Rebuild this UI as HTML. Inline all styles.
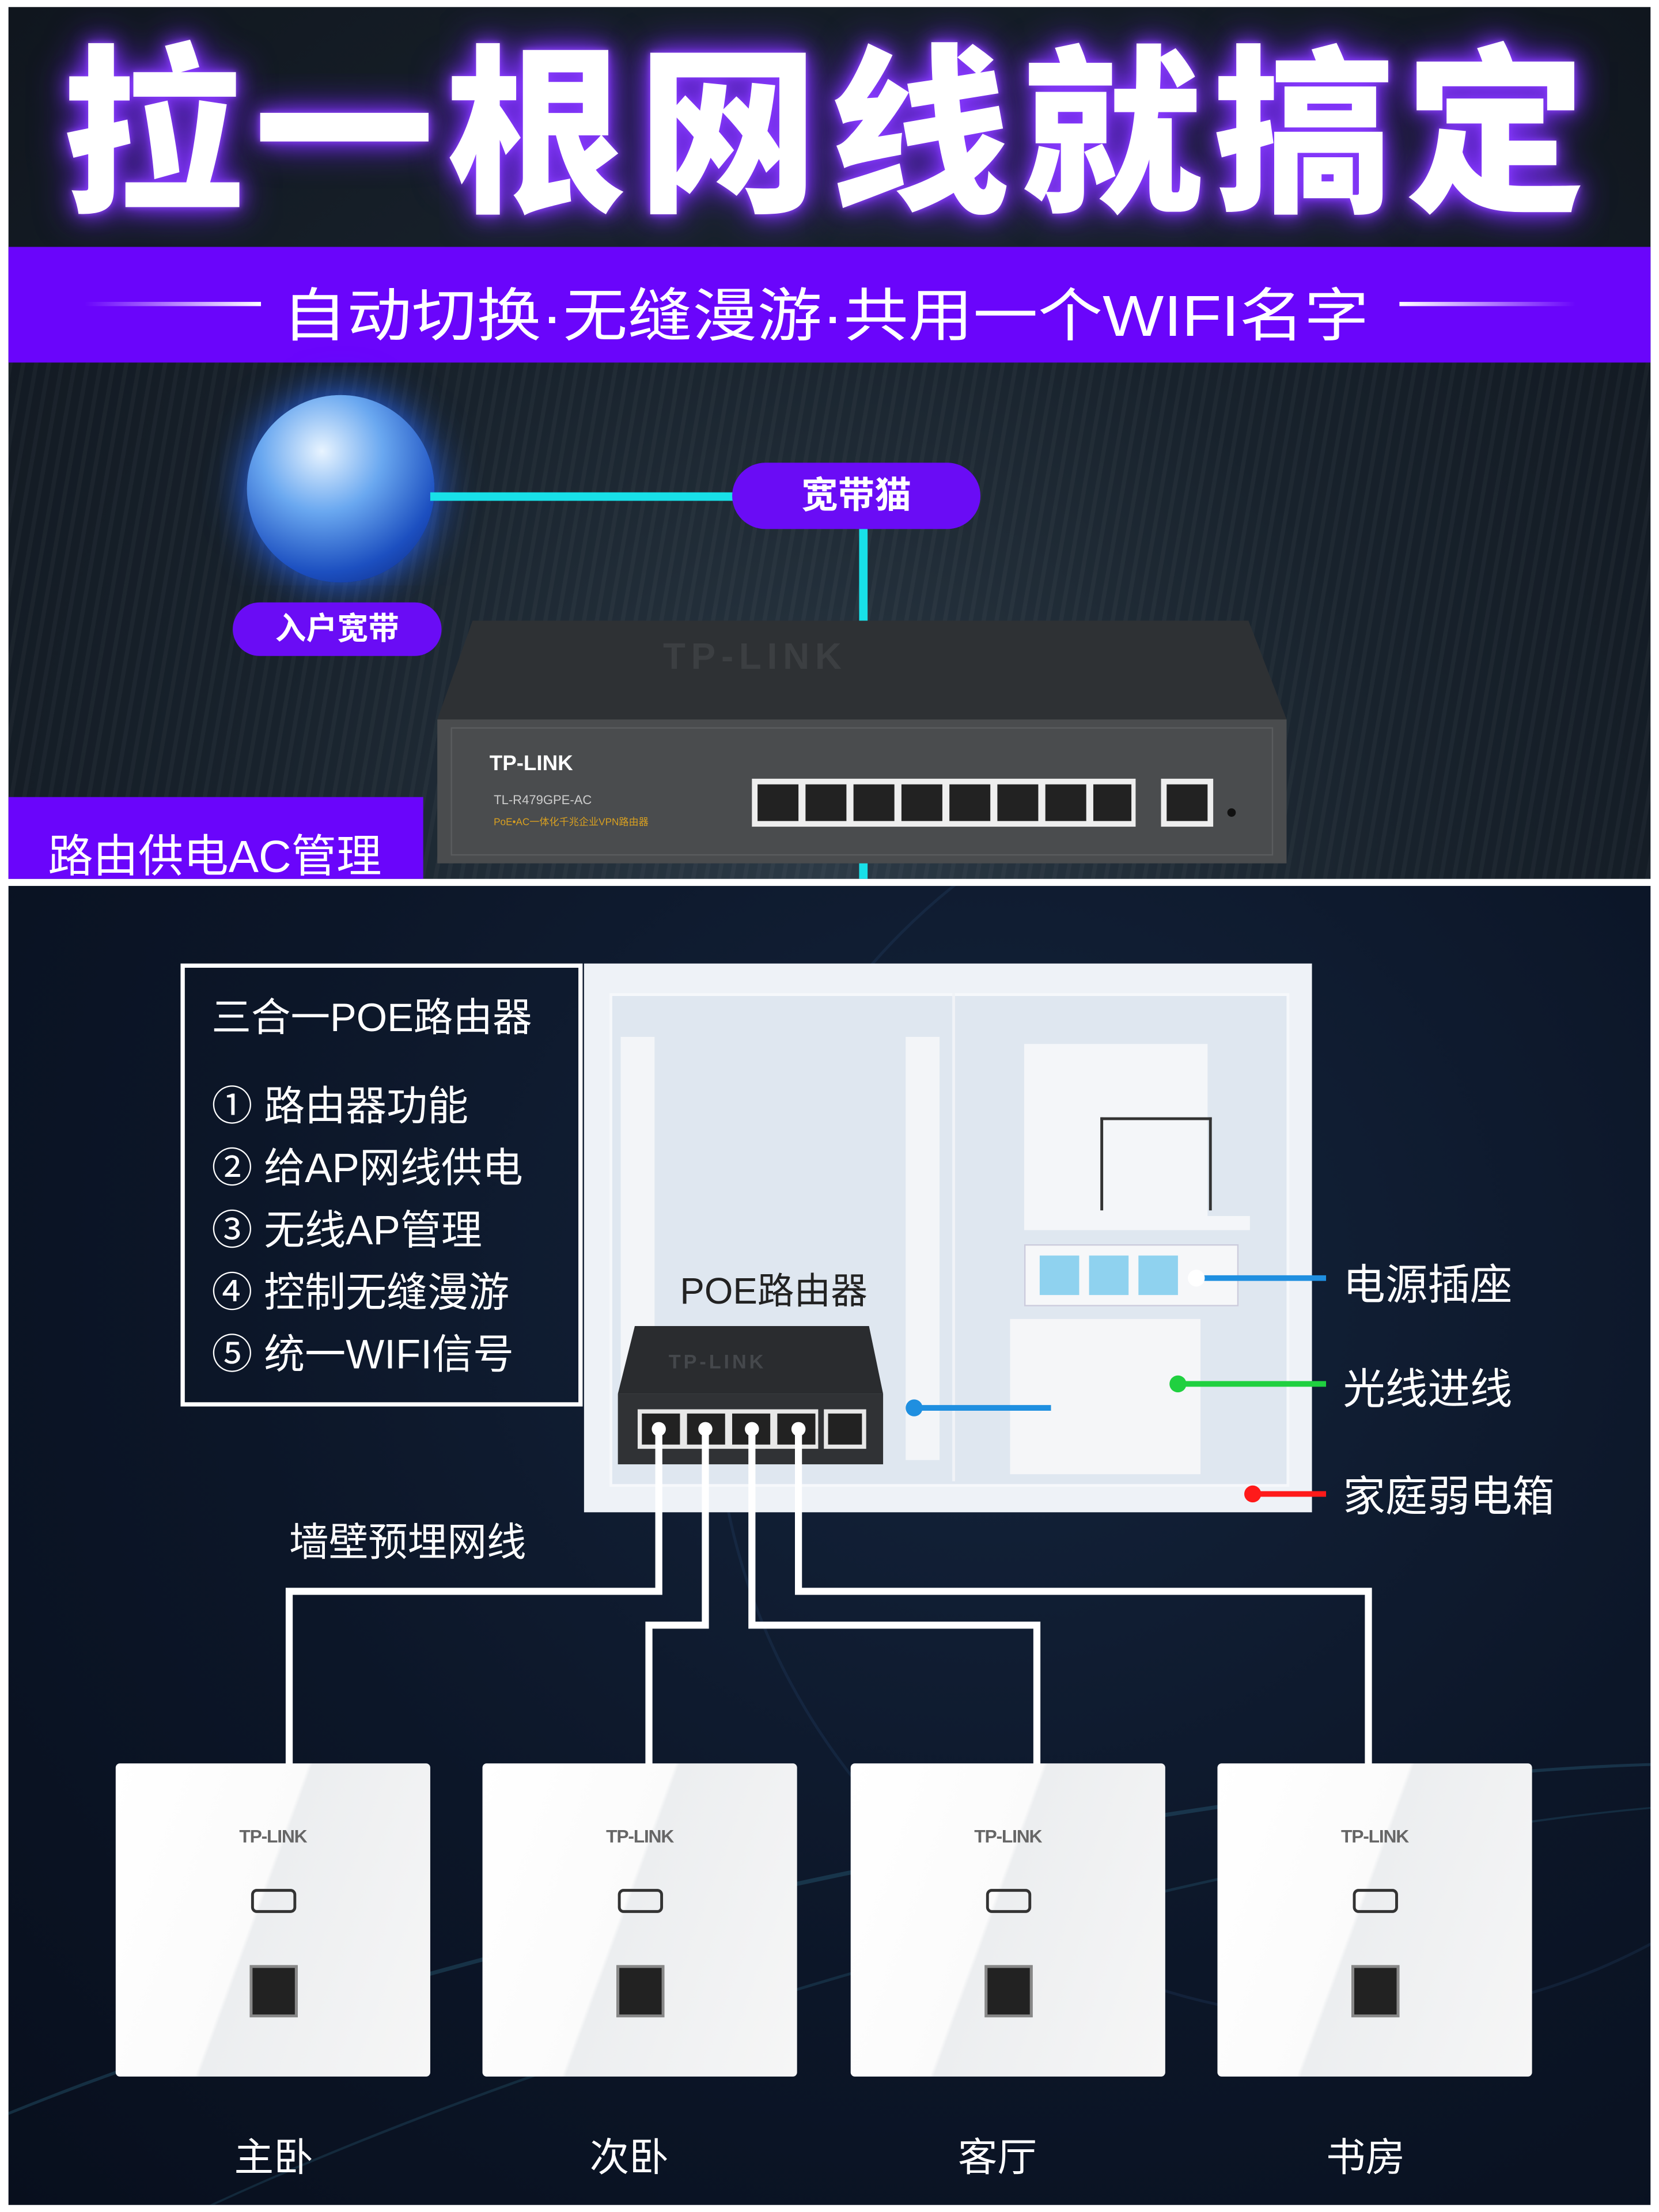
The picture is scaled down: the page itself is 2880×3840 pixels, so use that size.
<!DOCTYPE html>
<html><head><meta charset="utf-8"><style>
html,body{margin:0;padding:0;background:#fff;width:2880px;height:3840px;overflow:hidden}
#s{position:absolute;left:0;top:0;width:1176px;height:1568px;overflow:hidden;transform:scale(2.44898);transform-origin:0 0;font-family:"Liberation Sans","Noto Sans CJK SC",sans-serif}
.a{position:absolute}
.t{position:absolute;white-space:nowrap;color:#fff}
.pill{position:absolute;background:#6a0cf5;border-radius:24px;color:#fff;font-weight:bold;text-align:center}
.ap{position:absolute;top:1250px;width:223px;height:222px;background:linear-gradient(110deg,#fff 0%,#fbfbfb 45%,#eceef0 46%,#f6f6f6 100%);border-radius:3px}
.ap .logo{position:absolute;top:44px;left:0;width:100%;text-align:center;font:bold 13px "Liberation Sans",sans-serif;color:#666;letter-spacing:-0.5px}
.ap .wf{position:absolute;left:96px;top:89px;width:28px;height:13px;border:2px solid #333;border-radius:4px}
.ap .rj{position:absolute;left:95px;top:143px;width:30px;height:33px;background:#222;border:2px solid #888}
.lbl{position:absolute;top:1508px;font-size:28px;color:#fff}
</style></head><body><div id="s">
<div class="a" style="left:6px;top:5px;width:1164px;height:618px;background:radial-gradient(ellipse at 50% 100%,#2c3a46 0%,#18222c 50%,#10161e 100%)"></div>
<div class="a" style="left:6px;top:257px;width:1164px;height:366px;background:repeating-linear-gradient(100deg,rgba(255,255,255,0.03) 0 3px,rgba(0,0,0,0) 3px 9px)"></div>
<div class="t" style="left:30px;top:-8px;width:1116px;text-align:center;font-size:128px;font-weight:900;letter-spacing:8px;text-shadow:0 0 14px #8a3cff,0 0 28px #7020ff,0 0 4px #a060ff">拉一根网线就搞定</div>
<div class="a" style="left:6px;top:175px;width:1164px;height:82px;background:#6a05fb"></div>
<div class="a" style="left:60px;top:214px;width:125px;height:3px;background:linear-gradient(90deg,rgba(255,255,255,0),#fff)"></div>
<div class="a" style="left:992px;top:214px;width:125px;height:3px;background:linear-gradient(90deg,#fff,rgba(255,255,255,0))"></div>
<div class="t" style="left:200px;top:190px;font-size:41px;transform:scaleX(1.12);transform-origin:0 0">自动切换·无缝漫游·共用一个WIFI名字</div>
<div class="a" style="left:175px;top:280px;width:133px;height:133px;border-radius:50%;background:radial-gradient(circle at 40% 30%,#e8f4ff 0%,#6aa8f0 35%,#1c4fc0 70%,#0a2070 100%);box-shadow:0 0 30px #2a6aff"></div>
<div class="a" style="left:305px;top:349px;width:218px;height:6px;background:#18e0e8"></div>
<div class="a" style="left:609px;top:372px;width:6px;height:70px;background:#18e0e8"></div>
<div class="a" style="left:609px;top:610px;width:6px;height:13px;background:#18e0e8"></div>
<div class="pill" style="left:519px;top:328px;width:176px;height:47px;font-size:26px;line-height:47px">宽带猫</div>
<div class="pill" style="left:165px;top:427px;width:148px;height:38px;font-size:22px;line-height:38px">入户宽带</div>
<svg class="a" style="left:300px;top:430px" width="620" height="185">
<polygon points="35,10 585,10 612,80 10,80" fill="#2e3134"/>
<rect x="10" y="80" width="602" height="102" fill="#4a4c4e"/>
<rect x="20" y="86" width="582" height="90" fill="none" stroke="#5a5c5e"/>
<text x="170" y="44" font-family="Liberation Sans" font-size="26" font-weight="bold" fill="#3c3f42" letter-spacing="4">TP-LINK</text>
<text x="47" y="116" font-family="Liberation Sans" font-size="15" font-weight="bold" fill="#fff">TP-LINK</text>
<text x="50" y="140" font-family="Liberation Sans" font-size="9" fill="#ccc">TL-R479GPE-AC</text>
<text x="50" y="155" font-family="Liberation Sans,Noto Sans CJK SC" font-size="7" fill="#d9a020">PoE•AC一体化千兆企业VPN路由器</text>
<g fill="#eee"><rect x="233" y="122" width="272" height="34"/><rect x="523" y="122" width="37" height="34"/></g>
<g fill="#222">
<rect x="237" y="126" width="29" height="26"/><rect x="271" y="126" width="29" height="26"/><rect x="305" y="126" width="29" height="26"/><rect x="339" y="126" width="29" height="26"/><rect x="373" y="126" width="29" height="26"/><rect x="407" y="126" width="29" height="26"/><rect x="441" y="126" width="29" height="26"/><rect x="475" y="126" width="27" height="26"/><rect x="527" y="126" width="29" height="26"/></g>
<circle cx="573" cy="146" r="3" fill="#111"/>
</svg>
<div class="a" style="left:6px;top:565px;width:294px;height:58px;background:#6a05fb"></div>
<div class="t" style="left:34px;top:587px;font-size:32px;line-height:40px">路由供电AC管理</div>
<div class="a" style="left:6px;top:628px;width:1164px;height:935px;background:radial-gradient(ellipse at 60% 30%,#14243c 0%,#0c1628 55%,#080f1d 100%);overflow:hidden">
<div class="a" style="left:-200px;top:700px;width:1600px;height:260px;border-radius:50%;border-top:3px solid rgba(60,140,170,0.25);transform:rotate(-12deg)"></div>
<div class="a" style="left:-100px;top:760px;width:1500px;height:260px;border-radius:50%;border-top:2px solid rgba(60,140,170,0.2);transform:rotate(-16deg)"></div>
<div class="a" style="left:500px;top:-100px;width:900px;height:900px;border-radius:50%;border:2px solid rgba(60,110,160,0.15)"></div>
</div>
<div class="a" style="left:128px;top:683px;width:279px;height:308px;border:3px solid #fff"></div>
<div class="t" style="left:150px;top:700px;font-size:28px">三合一POE路由器</div>
<div class="t" style="left:150px;top:763px;font-size:29px;line-height:44px">① 路由器功能<br>② 给AP网线供电<br>③ 无线AP管理<br>④ 控制无缝漫游<br>⑤ 统一WIFI信号</div>
<div class="a" style="left:414px;top:683px;width:516px;height:389px;background:#eef2f7"></div>
<div class="a" style="left:432px;top:704px;width:478px;height:346px;background:#dfe7f0;border:2px solid #f6f8fb"></div>
<div class="a" style="left:675px;top:704px;width:2px;height:346px;background:#f0f3f7"></div>
<div class="a" style="left:440px;top:735px;width:24px;height:300px;background:#f3f5f8"></div>
<div class="a" style="left:642px;top:735px;width:24px;height:300px;background:#f3f5f8"></div>
<div class="a" style="left:726px;top:740px;width:130px;height:122px;background:#f4f6f9"></div>
<div class="a" style="left:780px;top:792px;width:75px;height:64px;border:2px solid #333;border-bottom:none"></div>
<div class="a" style="left:726px;top:862px;width:160px;height:10px;background:#f4f6f9"></div>
<div class="a" style="left:726px;top:882px;width:150px;height:42px;background:#f6f7f9;border:1px solid #ccd"></div>
<div class="a" style="left:737px;top:890px;width:28px;height:28px;background:#8fd2ef"></div>
<div class="a" style="left:772px;top:890px;width:28px;height:28px;background:#8fd2ef"></div>
<div class="a" style="left:807px;top:890px;width:28px;height:28px;background:#8fd2ef"></div>
<div class="a" style="left:716px;top:935px;width:135px;height:110px;background:#f5f6f8"></div>
<div class="t" style="left:482px;top:895px;font-size:26px;color:#222">POE路由器</div>
<svg class="a" style="left:436px;top:938px" width="192" height="102">
<polygon points="14,2 180,2 190,50 2,50" fill="#2a2c2f"/>
<rect x="2" y="50" width="188" height="50" fill="#303235"/>
<text x="38" y="32" font-family="Liberation Sans" font-size="14" font-weight="bold" fill="#45484c" letter-spacing="2">TP-LINK</text>
<g fill="#e8e8e8"><rect x="16" y="61" width="128" height="28"/><rect x="148" y="61" width="30" height="28"/></g>
<g fill="#222"><rect x="19" y="64" width="27" height="22"/><rect x="51" y="64" width="27" height="22"/><rect x="83" y="64" width="27" height="22"/><rect x="115" y="64" width="27" height="22"/><rect x="151" y="64" width="24" height="22"/></g>
</svg>
<svg class="a" style="left:0;top:0" width="1176" height="1568">
<g stroke="#fff" stroke-width="5" fill="none">
<polyline points="467,1012 467,1128 205,1128 205,1252"/>
<polyline points="500,1012 500,1152 460,1152 460,1252"/>
<polyline points="533,1012 533,1152 735,1152 735,1252"/>
<polyline points="566,1012 566,1128 970,1128 970,1252"/>
</g>
<g fill="#fff"><circle cx="467" cy="1013" r="5"/><circle cx="500" cy="1013" r="5"/><circle cx="533" cy="1013" r="5"/><circle cx="566" cy="1013" r="5"/></g>
<line x1="648" y1="998" x2="745" y2="998" stroke="#1f8fe0" stroke-width="4"/>
<circle cx="648" cy="998" r="6" fill="#1f8fe0"/>
<line x1="848" y1="906" x2="940" y2="906" stroke="#1f8fe0" stroke-width="4"/>
<circle cx="848" cy="906" r="6" fill="#fff"/>
<line x1="835" y1="981" x2="940" y2="981" stroke="#20d040" stroke-width="4"/>
<circle cx="835" cy="981" r="6" fill="#20d040"/>
<line x1="888" y1="1059" x2="940" y2="1059" stroke="#ff1a1a" stroke-width="4"/>
<circle cx="888" cy="1059" r="6" fill="#ff1a1a"/>
</svg>
<div class="t" style="left:952px;top:886px;font-size:30px">电源插座</div>
<div class="t" style="left:952px;top:960px;font-size:30px">光线进线</div>
<div class="t" style="left:952px;top:1036px;font-size:30px">家庭弱电箱</div>
<div class="t" style="left:205px;top:1072px;font-size:28px">墙壁预埋网线</div>
<div class="ap" style="left:82px"><div class="logo">TP-LINK</div><div class="wf"></div><div class="rj"></div></div>
<div class="ap" style="left:342px"><div class="logo">TP-LINK</div><div class="wf"></div><div class="rj"></div></div>
<div class="ap" style="left:603px"><div class="logo">TP-LINK</div><div class="wf"></div><div class="rj"></div></div>
<div class="ap" style="left:863px"><div class="logo">TP-LINK</div><div class="wf"></div><div class="rj"></div></div>
<div class="lbl" style="left:166px">主卧</div>
<div class="lbl" style="left:418px">次卧</div>
<div class="lbl" style="left:679px">客厅</div>
<div class="lbl" style="left:940px">书房</div>
</div></body></html>
